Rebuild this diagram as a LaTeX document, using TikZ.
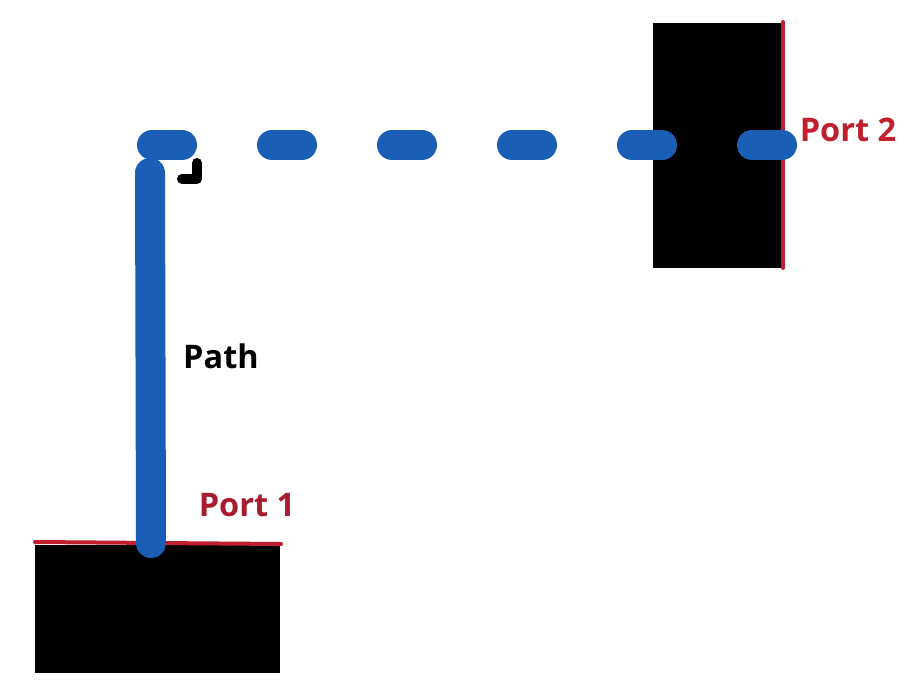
\documentclass[tikz,border=0pt]{standalone}
\usepackage{fontspec}
\setmainfont{Open Sans}
\usepackage{tikz}
\usepackage{xcolor}
\usetikzlibrary{positioning,calc}
\definecolor{PathBlue}{HTML}{1B5EB5}
\definecolor{PortRed}{HTML}{C21F2E}
\definecolor{LabelRed}{HTML}{A81D2E}

\begin{document}
\begin{tikzpicture}[
  x=1pt,y=-1pt,
  block/.style={draw=none,fill=black,inner sep=0pt},
  port/.style={draw=PortRed,line width=4pt,line cap=round},
  route/.style={draw=PathBlue,line width=30pt,line cap=round},
  label/.style={font=\fontsize{32.5}{38}\selectfont\bfseries,inner sep=0pt},
  anglemark/.style={draw=black,line width=10pt,line cap=round,line join=round}
]
\useasboundingbox (0,0) rectangle (910,687);
\node[block,minimum width=245pt,minimum height=128pt] (dev1) at (157.5,609) {};
\node[block,minimum width=129pt,minimum height=245pt] (dev2) at (717.5,145.5) {};
\coordinate (p1a) at (35,542);
\coordinate (p1b) at (281,544);
\coordinate (p2a) at (783,22);
\coordinate (p2b) at (783,268);
\draw[port] (p1a) -- (p1b);
\draw[port] (p2a) -- (p2b);
\coordinate (start) at (151,543);
\coordinate (bend) at (150,173);
\coordinate (corner) at (152,145);
\coordinate (end) at (782,145);
\draw[route] (start) -- (bend);
\draw[route,dash pattern=on 30pt off 90pt] (corner) -- (end);
\draw[anglemark] (197,163) -- (197,179) -- (182,179);
\node[label,text=black] (pathlbl) at (221,356) {Path};
\node[label,text=LabelRed] (port1lbl) at (247,505) {Port 1};
\node[label,text=PortRed] (port2lbl) at (848,130) {Port 2};
\end{tikzpicture}
\end{document}
